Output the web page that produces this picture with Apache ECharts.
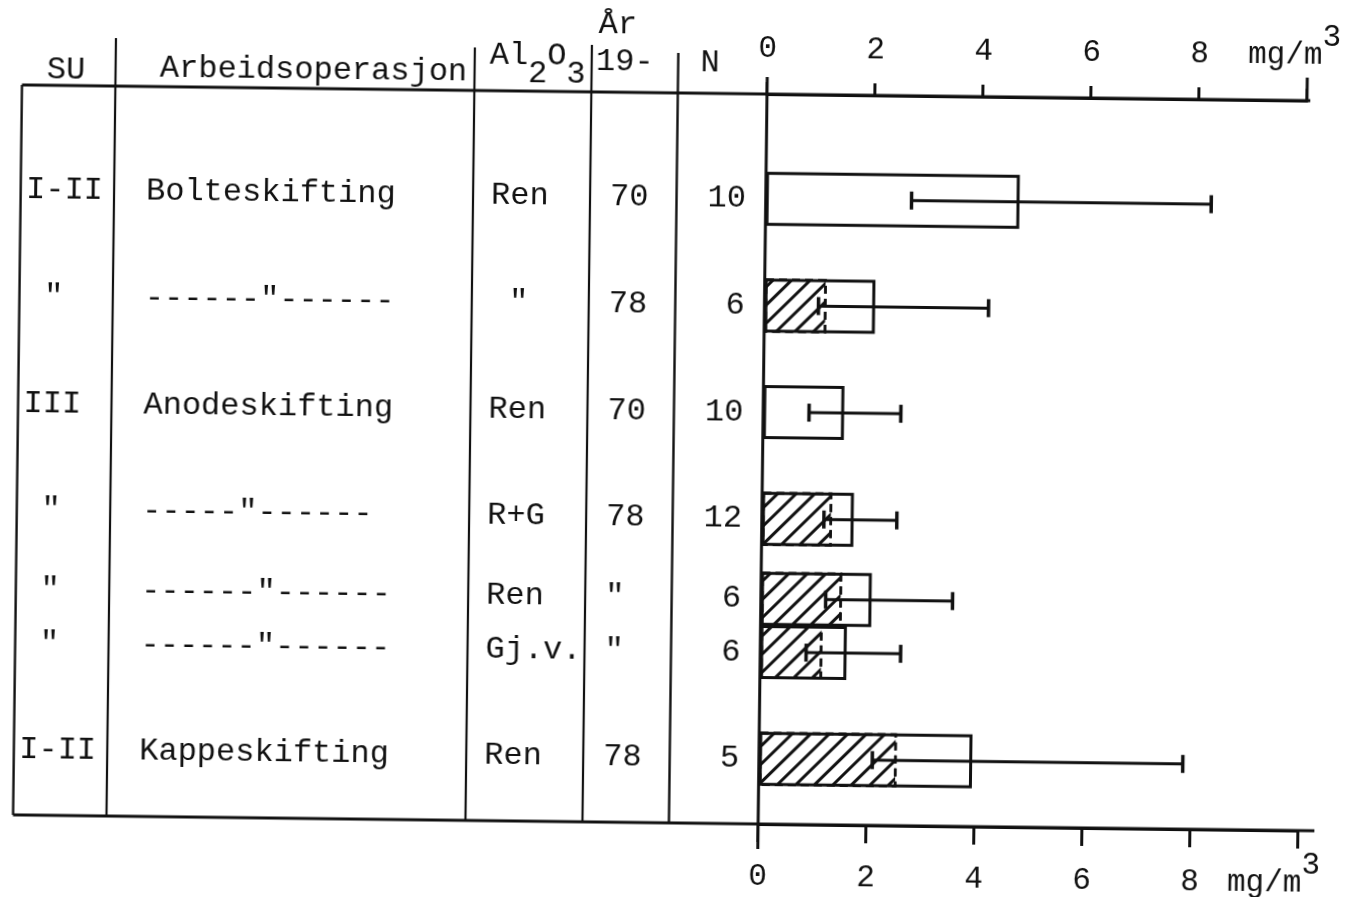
<!DOCTYPE html>
<html>
<head>
<meta charset="utf-8">
<script src="https://cdn.jsdelivr.net/npm/echarts@6/dist/echarts.min.js"></script>
<style>
html, body { margin: 0; padding: 0; background: #fff; overflow: hidden; }
#chart { width: 1360px; height: 897px; transform: rotate(0.7deg); transform-origin: 680px 448.5px; }
</style>
</head>
<body>
<div id="chart"></div>
<script>
// ---- data ----
const suLabels      = ['I-II', ' "', 'III', ' "', ' "', ' "', 'I-II'];
const operations    = ['Bolteskifting', '------"------', 'Anodeskifting', '-----"------', '------"------', '------"------', 'Kappeskifting'];
const aluminaLabels = ['Ren', ' "', 'Ren', 'R+G', 'Ren', 'Gj.v.', 'Ren'];
const yearLabels    = ['70', '78', '70', '78', '"', '"', '78'];
const nLabels       = ['10', '6', '10', '12', '6', '6', '5'];
const meanValues    = [4.7, 2.05, 1.5, 1.7, 2.05, 1.6, 3.95];
const hatchedValues = [null, 1.15, null, 1.3, 1.5, 1.15, 2.55];
const lowValues     = [2.7, 1.0, 0.85, 1.15, 1.2, 0.85, 2.1];
const highValues    = [8.25, 4.15, 2.55, 2.5, 3.55, 2.6, 7.85];
const xTickValues   = [0, 2, 4, 6, 8, 10];
const unitText      = 'mg/m';
const unitSup       = '3';
const headerSU      = 'SU';
const headerOp      = 'Arbeidsoperasjon';
const headerAl      = ['Al', '2', 'O', '3'];
const headerYear    = ['År', '19-'];
const headerN       = 'N';

// ---- layout (row slots on the category axis) ----
const slotOfRow = [0, 4, 8, 12, 15, 17, 21];
const slotCount = 22;
const categories = Array.from({ length: slotCount }, (_, s) => 'slot' + s);
const rowAtSlot = categories.map((_, s) => slotOfRow.indexOf(s));
const bySlot = arr => rowAtSlot.map(r => (r >= 0 && arr[r] != null) ? arr[r] : '-');

const FONT = 'Liberation Mono';
const INK = '#111';

const gridLeft = 762.7, gridWidth = 540, gridTop = 184.4, gridHeight = 586.7;
const topLineY = 93, bottomLineY = 823;

function colAxis(arr, offset, align) {
  return {
    type: 'category', gridIndex: 0, data: categories, inverse: true,
    position: 'left', offset: offset,
    axisLine: { show: false }, axisTick: { show: false }, splitLine: { show: false },
    axisLabel: {
      interval: 0, margin: 0, align: align,
      fontFamily: FONT, fontSize: 32, color: INK,
      formatter: (v, i) => rowAtSlot[i] >= 0 ? arr[rowAtSlot[i]] : ''
    }
  };
}

function unitRich(shift) {
  return {
    u: { fontFamily: FONT, fontSize: 31, color: INK, padding: [18, 0, 0, 0] },
    s: { fontFamily: FONT, fontSize: 31, color: INK, padding: [0, shift, 18, 0] }
  };
}
const unitFormatter = v => v === 10 ? '{u|' + unitText + '}{s|' + unitSup + '}' : String(v);

const chart = echarts.init(document.getElementById('chart'), null, { renderer: 'canvas' });

function vline(x, y1, y2, w) {
  return { type: 'line', shape: { x1: x, y1: y1, x2: x, y2: y2 }, style: { stroke: INK, lineWidth: w || 2.2 }, z: 1 };
}
function hline(y, x1, x2, w) {
  return { type: 'line', shape: { x1: x1, y1: y, x2: x2, y2: y }, style: { stroke: INK, lineWidth: w || 3 }, z: 1 };
}

const option = {
  animation: false,
  backgroundColor: '#fff',
  grid: { left: gridLeft, top: gridTop, width: gridWidth, height: gridHeight, containLabel: false },
  xAxis: [
    {
      type: 'value', position: 'top', offset: gridTop - topLineY, min: 0, max: 10, interval: 2,
      axisLine: { show: true, lineStyle: { color: INK, width: 3 } },
      axisTick: { show: true, length: 12, lineStyle: { color: INK, width: 3 } },
      splitLine: { show: false },
      axisLabel: {
        customValues: xTickValues, margin: 30, fontFamily: FONT, fontSize: 31, color: INK,
        formatter: unitFormatter, rich: unitRich(26)
      }
    },
    {
      type: 'value', position: 'bottom', offset: bottomLineY - (gridTop + gridHeight), min: 0, max: 10, interval: 2,
      axisLine: { show: true, lineStyle: { color: INK, width: 3 } },
      axisTick: { show: true, length: 18, lineStyle: { color: INK, width: 3 } },
      splitLine: { show: false },
      axisLabel: {
        customValues: xTickValues, margin: 68, verticalAlign: 'bottom', fontFamily: FONT, fontSize: 31, color: INK,
        formatter: unitFormatter, rich: unitRich(48)
      }
    }
  ],
  yAxis: [
    {
      type: 'category', gridIndex: 0, data: categories, inverse: true,
      axisLine: { show: false }, axisTick: { show: false }, axisLabel: { show: false }, splitLine: { show: false }
    },
    colAxis(suLabels, gridLeft - 23, 'left'),
    colAxis(operations, gridLeft - 143, 'left'),
    colAxis(aluminaLabels, gridLeft - 488, 'left'),
    colAxis(yearLabels, gridLeft - 607, 'left'),
    colAxis(nLabels, gridLeft - 743, 'right')
  ],
  series: [
    {
      name: 'Middel', type: 'bar', xAxisIndex: 0, yAxisIndex: 0, z: 2, clip: false,
      barWidth: 54, barGap: '-100%',
      data: bySlot(meanValues),
      itemStyle: { color: '#fff', borderColor: INK, borderWidth: 3 }
    },
    {
      name: 'Skravert', type: 'bar', xAxisIndex: 0, yAxisIndex: 0, z: 3, clip: false,
      barWidth: 54, barGap: '-100%',
      data: bySlot(hatchedValues),
      itemStyle: {
        color: 'rgba(0,0,0,0)', borderColor: INK, borderWidth: 2.5, borderType: [8, 5],
        decal: {
          symbol: 'rect', symbolSize: 1, symbolKeepAspect: false,
          dashArrayX: [1, 0], dashArrayY: [3, 10], rotation: -Math.PI / 4,
          color: INK
        }
      }
    },
    {
      name: 'Spredning', type: 'custom', xAxisIndex: 0, yAxisIndex: 0, z: 10, clip: false,
      data: slotOfRow.map((s, i) => [s, lowValues[i], highValues[i]]),
      encode: { x: [1, 2], y: 0 },
      renderItem: (params, api) => {
        const cat = api.value(0);
        const a = api.coord([api.value(1), cat]);
        const b = api.coord([api.value(2), cat]);
        const cap = 9;
        return {
          type: 'group',
          children: [
            { type: 'line', z2: 10, shape: { x1: a[0], y1: a[1], x2: b[0], y2: b[1] }, style: { stroke: INK, lineWidth: 3 } },
            { type: 'line', z2: 10, shape: { x1: a[0], y1: a[1] - cap, x2: a[0], y2: a[1] + cap }, style: { stroke: INK, lineWidth: 3.5 } },
            { type: 'line', z2: 10, shape: { x1: b[0], y1: b[1] - cap, x2: b[0], y2: b[1] + cap }, style: { stroke: INK, lineWidth: 3.5 } }
          ]
        };
      }
    }
  ],
  graphic: [
    hline(topLineY, 17.6, 1306, 3),
    hline(bottomLineY, 17.5, 1319, 3),
    vline(17.6, topLineY, bottomLineY, 2.4),
    vline(111, 45, bottomLineY, 2.2),
    vline(470, 50, bottomLineY, 2.2),
    vline(587, 46, bottomLineY, 2.2),
    vline(673.5, 53, bottomLineY, 2.4),
    vline(gridLeft, 76, 848, 3),
    vline(gridLeft + gridWidth, 70, topLineY, 3),
    { type: 'text', x: 61.4, y: 78, style: { text: headerSU, fontFamily: FONT, fontSize: 32, fill: INK, align: 'center', verticalAlign: 'middle' } },
    { type: 'text', x: 155.3, y: 75, style: { text: headerOp, fontFamily: FONT, fontSize: 32, fill: INK, align: 'left', verticalAlign: 'middle' } },
    { type: 'text', x: 485, y: 67, style: {
        text: '{a|' + headerAl[0] + '}{s|' + headerAl[1] + '}{a|' + headerAl[2] + '}{s|' + headerAl[3] + '}',
        align: 'left', verticalAlign: 'middle',
        rich: {
          a: { fontFamily: FONT, fontSize: 32, fill: INK, padding: [0, 0, 18, 0] },
          s: { fontFamily: FONT, fontSize: 32, fill: INK, padding: [18, 0, 0, 0] }
        }
      } },
    { type: 'text', x: 612.8, y: 26, style: { text: headerYear[0], fontFamily: FONT, fontSize: 32, fill: INK, align: 'center', verticalAlign: 'middle' } },
    { type: 'text', x: 591.3, y: 63, style: { text: headerYear[1], fontFamily: FONT, fontSize: 32, fill: INK, align: 'left', verticalAlign: 'middle' } },
    { type: 'text', x: 705.3, y: 63, style: { text: headerN, fontFamily: FONT, fontSize: 32, fill: INK, align: 'center', verticalAlign: 'middle' } }
  ]
};
chart.setOption(option);
</script>
</body>
</html>
